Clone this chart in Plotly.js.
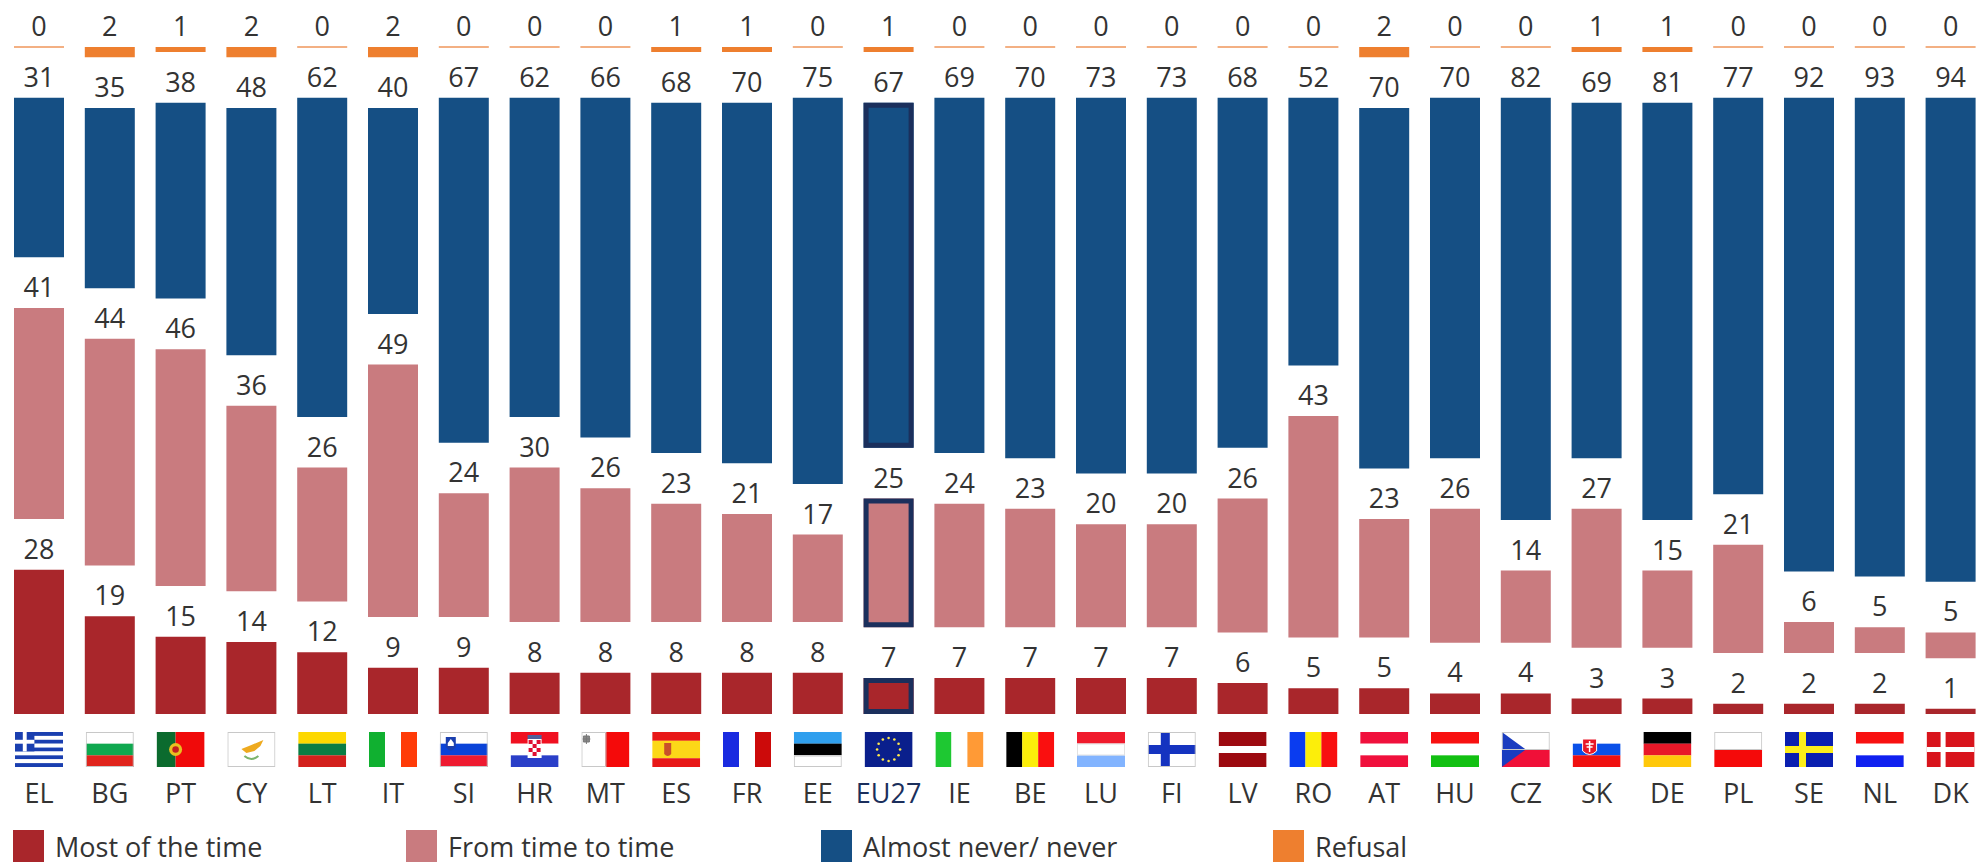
<!DOCTYPE html>
<html>
<head>
<meta charset="utf-8">
<script src="https://cdn.plot.ly/plotly-3.0.1.min.js"></script>
<style>html,body{margin:0;padding:0;background:#fff}#chart{width:1980px;height:863px}</style>
</head>
<body>
<div id="chart"></div>
<script>
const countries = ['EL','BG','PT','CY','LT','IT','SI','HR','MT','ES','FR','EE','EU27','IE','BE','LU','FI','LV','RO','AT','HU','CZ','SK','DE','PL','SE','NL','DK'];
const mostOfTheTime = [28,19,15,14,12,9,9,8,8,8,8,8,7,7,7,7,7,6,5,5,4,4,3,3,2,2,2,1];
const fromTimeToTime = [41,44,46,36,26,49,24,30,26,23,21,17,25,24,23,20,20,26,43,23,26,14,27,15,21,6,5,5];
const almostNever = [31,35,38,48,62,40,67,62,66,68,70,75,67,69,70,73,73,68,52,70,70,82,69,81,77,92,93,94];
const refusal = [0,2,1,2,0,2,0,0,0,1,1,0,1,0,0,0,0,0,0,2,0,0,1,1,0,0,0,0];
const seriesNames = ['Most of the time','From time to time','Almost never/ never','Refusal'];

const RED='#a9262b', PINK='#c97b7f', BLUE='#154f84', ORANGE='#ee7f2f', NAVY='#1b2f5c', TEXT='#333333';
const FONT='"Open Sans", sans-serif';
const W=1980, H=863, PLOT_H=775, PX_PER_UNIT=5.15, ZERO_PX=714, FIRST_X=39, STEP=70.8;
const GAP=9.84, BAR_W=50/STEP;

const pxX=p=>(p-FIRST_X)/STEP;
const paperX=p=>p/W;
const paperY=p=>(PLOT_H-p)/PLOT_H;

// vertical stacking with fixed label gaps between the blocks
const idx=countries.map((_,i)=>i);
const base2=idx.map(i=>mostOfTheTime[i]+GAP);
const base3=idx.map(i=>base2[i]+fromTimeToTime[i]+GAP);
const base4=idx.map(i=>base3[i]+almostNever[i]+GAP+0);

function barTrace(name,vals,base,color,extra){
  return Object.assign({type:'bar',name,x:idx,y:vals,base,width:BAR_W,
    marker:{color,line:{width:0}},text:vals.map(String),textposition:'outside',
    cliponaxis:false,textfont:{family:FONT,size:27,color:TEXT},showlegend:false,
    hoverinfo:'x+y+name'},extra||{});
}
const traces=[
  barTrace(seriesNames[0],mostOfTheTime,idx.map(()=>0),RED),
  barTrace(seriesNames[1],fromTimeToTime,base2,PINK),
  barTrace(seriesNames[2],almostNever,base3,BLUE),
  {type:'bar',name:seriesNames[3],x:idx,y:refusal,base:base4,width:BAR_W,
    marker:{color:ORANGE,line:{width:refusal.map(v=>v===0?2:0),color:refusal.map(v=>v===0?'#f3b083':ORANGE)}},
    text:refusal.map(String),textposition:'outside',cliponaxis:false,
    textfont:{family:FONT,size:27,color:TEXT},showlegend:false,hoverinfo:'x+y+name'}
];

// flags
const hs=(c,r)=>{const t=(r||c.map(()=>1)),s=t.reduce((a,b)=>a+b,0);let y=0,o='';c.forEach((k,i)=>{const h=35*t[i]/s;o+=`<rect x="0" y="${y}" width="48" height="${h+.1}" fill="${k}"/>`;y+=h});return o};
const vs=c=>c.map((k,i)=>`<rect x="${i*48/c.length}" y="0" width="${48/c.length+.1}" height="35" fill="${k}"/>`).join('');
const bd='<rect x=".5" y=".5" width="47" height="34" fill="none" stroke="#c8c8c8" stroke-width="1"/>';
const stars=()=>{let o='';for(let k=0;k<12;k++){const a=k*Math.PI/6;o+=`<circle cx="${24+11.5*Math.cos(a)}" cy="${17.5+11.5*Math.sin(a)}" r="1.3" fill="#ffe94d"/>`}return o};
const flags={
 EL:hs(['#1a3fb0','#fff','#1a3fb0','#fff','#1a3fb0','#fff','#1a3fb0','#fff','#1a3fb0'])+'<rect width="19.4" height="19.4" fill="#1a3fb0"/><rect x="7.8" width="3.9" height="19.4" fill="#fff"/><rect y="7.8" width="19.4" height="3.9" fill="#fff"/>',
 BG:hs(['#fff','#0fa84f','#e0241c'])+bd,
 PT:'<rect width="19" height="35" fill="#0b6b2e"/><rect x="19" width="29" height="35" fill="#f00a0a"/><circle cx="19" cy="17.5" r="6.5" fill="#e8c020"/><circle cx="19" cy="17.5" r="3.3" fill="#c02020"/>',
 CY:'<rect width="48" height="35" fill="#fff"/><path d="M14 17 L24 13 L36 8 L33 14 L27 19 L19 21Z" fill="#eeaa1f"/><path d="M17 24 Q24 30 31 24" fill="none" stroke="#7db46c" stroke-width="2"/>'+bd,
 LT:hs(['#fdd800','#0a7d44','#d3201c']),
 IT:vs(['#10b030','#fff','#ff3b08']),
 SI:hs(['#fff','#0a43d8','#ee1a30'])+'<path d="M6 5h10v10q-5 7-10 0Z" fill="#1b3fae"/><path d="M8 11l3-4 3 4v3h-6Z" fill="#fff"/>'+bd,
 HR:hs(['#f01020','#fff','#2a3fc8'])+'<rect x="17" y="7" width="14" height="19" fill="#fff"/><rect x="17" y="7" width="14" height="19" fill="none"/><g fill="#e01030"><rect x="18" y="8" width="4" height="4"/><rect x="26" y="8" width="4" height="4"/><rect x="22" y="12" width="4" height="4"/><rect x="18" y="16" width="4" height="4"/><rect x="26" y="16" width="4" height="4"/><rect x="22" y="20" width="4" height="4"/></g><rect x="17" y="3" width="14" height="4" fill="#50609a"/>',
 MT:'<rect width="24" height="35" fill="#fff"/><rect x="24" width="24" height="35" fill="#f50a0a"/><path d="M2 4h6v6h-6Z M5 2v10 M1 7h8" fill="#888" stroke="#777"/>'+bd.replace('width="47"','width="24"'),
 ES:hs(['#e81818','#fcd818','#e81818'],[1,2,1])+'<path d="M12 11h7v11q-3.5 4-7 0Z" fill="#c8502a"/>',
 FR:vs(['#1a2be0','#fff','#cc0a0a']),
 EE:hs(['#2f9fee','#000','#fff'])+bd.replace('y=".5"','y="24"').replace('height="34"','height="10.5"'),
 EU27:'<rect width="48" height="35" fill="#0a1f8c"/>'+stars(),
 IE:vs(['#1ec832','#fff','#ff9a36']),
 BE:vs(['#000','#fcee0a','#fa0f0f']),
 LU:hs(['#f01a2c','#fff','#82b4ff'])+bd.replace('y=".5"','y="12"').replace('height="34"','height="11"').replace('stroke="#c8c8c8"','stroke="#e2e2e2"'),
 FI:'<rect width="48" height="35" fill="#fff"/><rect x="13" width="9" height="35" fill="#1533c0"/><rect y="13" width="48" height="9" fill="#1533c0"/>'+bd,
 LV:hs(['#9c0a10','#fff','#9c0a10'],[2,1,2]),
 RO:vs(['#0a3cf0','#fcee0a','#f81010']),
 AT:hs(['#f0103c','#fff','#f0103c']),
 HU:hs(['#f81010','#fff','#12c012']),
 CZ:hs(['#fff','#f01038'],[1,1])+'<path d="M0 0L24 17.5L0 35Z" fill="#1a3cc0"/>'+bd.replace('height="34"','height="17"'),
 SK:hs(['#fff','#0a50e8','#f01010'])+'<path d="M10 7h14v12q-7 7-14 0Z" fill="#e81828" stroke="#fff"/><path d="M17 9v11M13 12h8M14 15h6" stroke="#fff" stroke-width="1.5"/>',
 DE:hs(['#000','#e81828','#ffc80a']),
 PL:hs(['#fff','#f50a0a'],[1,1])+bd.replace('height="34"','height="17"'),
 SE:'<rect width="48" height="35" fill="#0a1fb0"/><rect x="14" width="7" height="35" fill="#fcee1a"/><rect y="14" width="48" height="7" fill="#fcee1a"/>',
 NL:hs(['#f81010','#fff','#1020f0']),
 DK:'<rect width="48" height="35" fill="#d8141c"/><rect x="14" width="5" height="35" fill="#fff"/><rect y="15" width="48" height="5" fill="#fff"/>'
};
const flagUri=c=>'data:image/svg+xml;charset=utf-8,'+encodeURIComponent(`<svg xmlns="http://www.w3.org/2000/svg" width="48" height="35" viewBox="0 0 48 35" preserveAspectRatio="none">${flags[c]}</svg>`);
const images=countries.map((c,i)=>({source:flagUri(c),xref:'x',yref:'paper',x:i,y:paperY(732),sizex:48/STEP,sizey:35/PLOT_H,sizing:'stretch',xanchor:'center',yanchor:'top',layer:'above'}));

// EU27 inner outline
const eu=countries.indexOf('EU27');
const insetX=2.5/STEP, insetY=2.5/PX_PER_UNIT;
const euBox=(b,v)=>({type:'rect',xref:'x',yref:'y',x0:eu-BAR_W/2+insetX,x1:eu+BAR_W/2-insetX,y0:b+insetY,y1:b+v-insetY,line:{color:NAVY,width:5},fillcolor:'rgba(0,0,0,0)',layer:'above'});
const shapes=[euBox(0,mostOfTheTime[eu]),euBox(base2[eu],fromTimeToTime[eu]),euBox(base3[eu],almostNever[eu])];

// legend row
const legendX=[13,406,821,1273], legendColors=[RED,PINK,BLUE,ORANGE], legendTextX=[56,449,864,1316];
const annotations=[];
seriesNames.forEach((n,i)=>{
  shapes.push({type:'rect',xref:'paper',yref:'paper',x0:paperX(legendX[i]),x1:paperX(legendX[i]+31),y0:paperY(830),y1:paperY(862),fillcolor:legendColors[i],line:{width:0}});
  annotations.push({xref:'paper',yref:'paper',x:paperX(legendTextX[i]),y:paperY(846),text:n,showarrow:false,xanchor:'left',yanchor:'middle',xshift:-3,font:{family:FONT,size:27,color:TEXT}});
});

const layout={
  width:W,height:H,margin:{l:0,r:0,t:0,b:H-PLOT_H,pad:0},
  paper_bgcolor:'#fff',plot_bgcolor:'#fff',barmode:'overlay',showlegend:false,
  xaxis:{range:[pxX(0),pxX(W)],tickmode:'array',tickvals:idx,
    ticktext:countries.map(c=>c==='EU27'?`<span style="color:${NAVY}">${c}</span>`:c),
    tickangle:0,ticks:'',showgrid:false,zeroline:false,showline:false,automargin:false,
    tickfont:{family:FONT,size:27,color:TEXT}},
  yaxis:{range:[(ZERO_PX-PLOT_H)/PX_PER_UNIT,ZERO_PX/PX_PER_UNIT],visible:false,showgrid:false,zeroline:false,fixedrange:true},
  images,shapes,annotations
};
Plotly.newPlot('chart',traces,layout,{displayModeBar:false,staticPlot:true});
</script>
</body>
</html>
